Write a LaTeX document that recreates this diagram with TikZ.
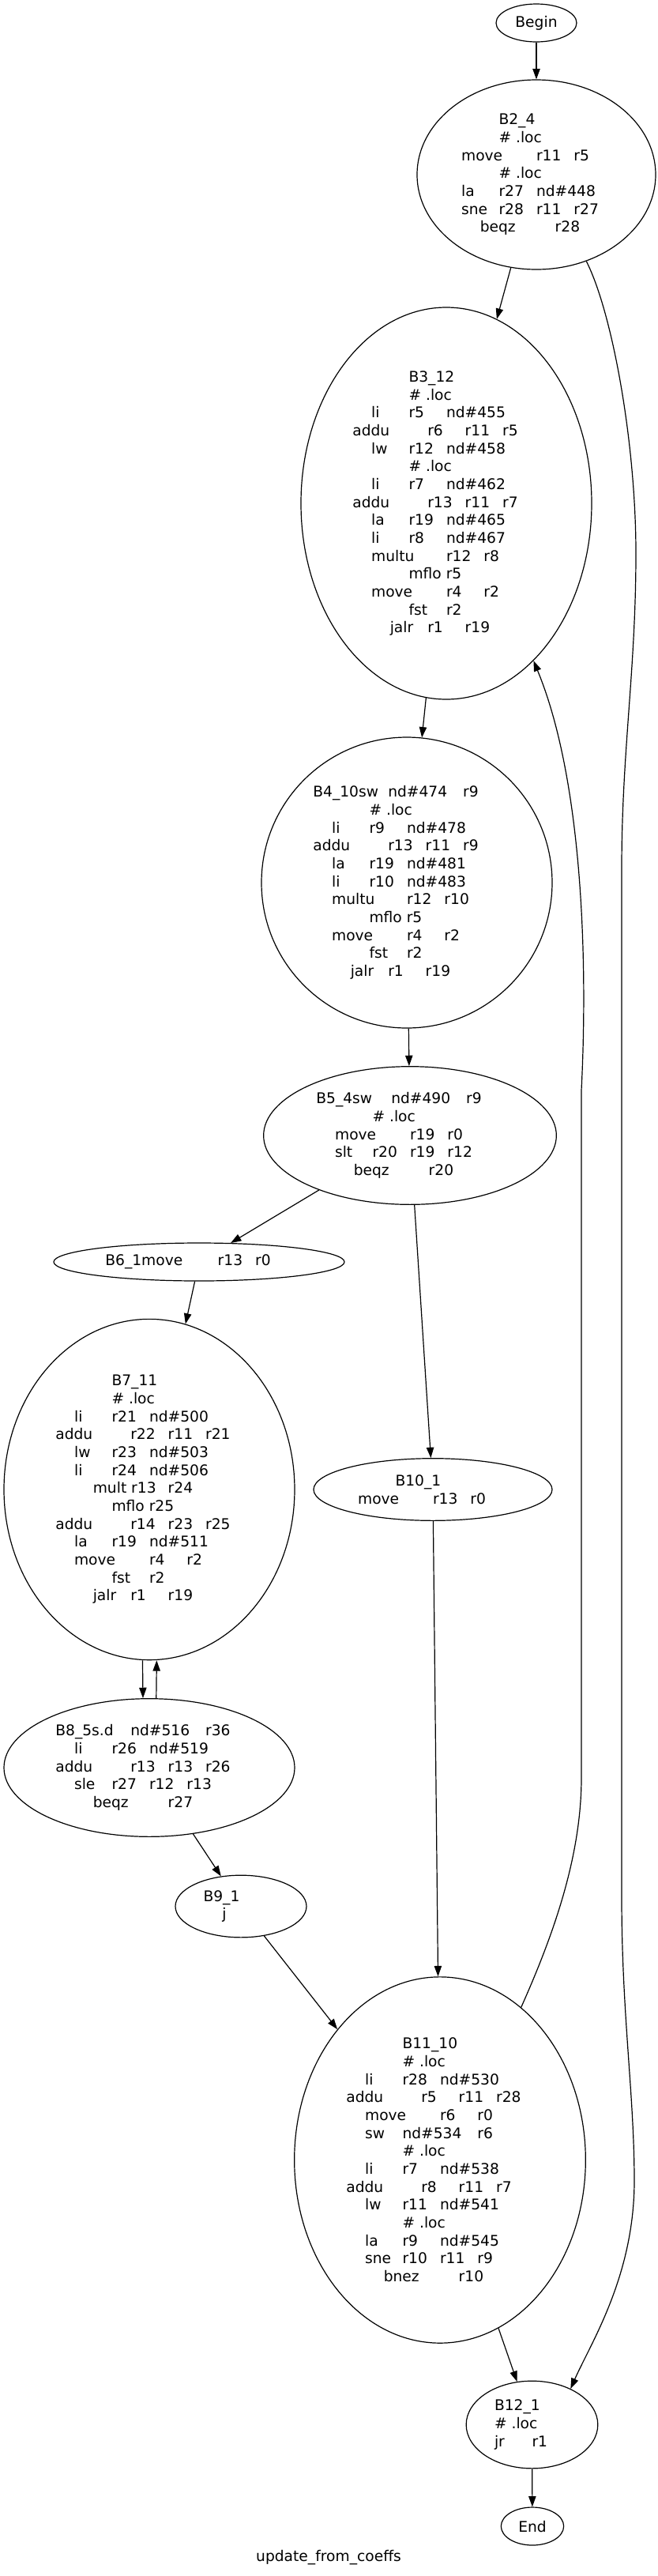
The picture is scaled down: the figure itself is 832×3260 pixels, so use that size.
\documentclass[tikz,border=0pt]{standalone}
\usepackage{fontspec}
\setmainfont{DejaVu Sans}
\usetikzlibrary{shapes.geometric,arrows.meta}

\newlength\tabw
\setlength\tabw{35.6pt}
\newsavebox\tbbox
\newdimen\tbd
\newcommand\tb[1]{\sbox\tbbox{#1}\tbd=\tabw
  \loop\ifdim\tbd<\wd\tbbox\advance\tbd by\tabw\repeat
  \ifdim\tbd=\wd\tbbox\advance\tbd by\tabw\fi
  \makebox[\tbd][l]{\usebox\tbbox}}
\newcommand\loc{\tb{\#\ .loc}}

\begin{document}
\begin{tikzpicture}[x=0.75pt,y=-0.75pt,
 every node/.style={font=\fontsize{14}{17}\selectfont},
 blk/.style={ellipse,draw,line width=0.9pt,inner sep=0pt,align=center},
 edge/.style={line width=0.9pt,-{Triangle[length=10pt,width=7pt]}}]
\fill[white] (0,0) rectangle (832,3260);
\useasboundingbox (0,0) rectangle (832,3260);
\node [blk,minimum width=76.5pt,minimum height=36pt] (begin) at (679,29) {Begin};
\node [blk,minimum width=226.5pt,minimum height=180pt] (B2) at (679,221)
 {\tb{B2\_4\ }\\ \loc\\ \tb{move}\tb{r11}\tb{r5}\\ \loc\\ \tb{la}\tb{r27}\tb{nd\#448}\\
  \tb{sne}\tb{r28}\tb{r11}\tb{r27}\\ \tb{beqz}\tb{}\tb{r28}};
\node [blk,minimum width=276pt,minimum height=372pt] (B3) at (565,637)
 {\tb{B3\_12\ }\\ \loc\\ \tb{li}\tb{r5}\tb{nd\#455}\\ \tb{addu}\tb{}\tb{r6}\tb{r11}\tb{r5}\\
  \tb{lw}\tb{r12}\tb{nd\#458}\\ \loc\\ \tb{li}\tb{r7}\tb{nd\#462}\\ \tb{addu}\tb{}\tb{r13}\tb{r11}\tb{r7}\\
  \tb{la}\tb{r19}\tb{nd\#465}\\ \tb{li}\tb{r8}\tb{nd\#467}\\ \tb{multu}\tb{r12}\tb{r8}\\ \tb{mflo r5}\\
  \tb{move}\tb{r4}\tb{r2}\\ \tb{fst}\tb{r2}\\ \tb{jalr}\tb{r1}\tb{r19}};
\node [blk,minimum width=276pt,minimum height=276pt] (B4) at (515,1117)
 {\tb{B4\_10sw}\tb{nd\#474}\tb{r9}\\ \loc\\ \tb{li}\tb{r9}\tb{nd\#478}\\ \tb{addu}\tb{}\tb{r13}\tb{r11}\tb{r9}\\
  \tb{la}\tb{r19}\tb{nd\#481}\\ \tb{li}\tb{r10}\tb{nd\#483}\\ \tb{multu}\tb{r12}\tb{r10}\\ \tb{mflo r5}\\
  \tb{move}\tb{r4}\tb{r2}\\ \tb{fst}\tb{r2}\\ \tb{jalr}\tb{r1}\tb{r19}};
\node [blk,minimum width=278pt,minimum height=131pt] (B5) at (519,1437)
 {\tb{B5\_4sw}\tb{nd\#490}\tb{r9}\\ \loc\\ \tb{move}\tb{r19}\tb{r0}\\
  \tb{slt}\tb{r20}\tb{r19}\tb{r12}\\ \tb{beqz}\tb{}\tb{r20}};
\node [blk,minimum width=276pt,minimum height=36pt] (B6) at (252,1597)
 {\tb{B6\_1move}\tb{r13}\tb{r0}};
\node [blk,minimum width=276pt,minimum height=323.5pt] (B7) at (189,1885)
 {\tb{B7\_11\ }\\ \loc\\ \tb{li}\tb{r21}\tb{nd\#500}\\ \tb{addu}\tb{}\tb{r22}\tb{r11}\tb{r21}\\
  \tb{lw}\tb{r23}\tb{nd\#503}\\ \tb{li}\tb{r24}\tb{nd\#506}\\ \tb{mult r13}\tb{r24}\\ \tb{mflo r25}\\
  \tb{addu}\tb{}\tb{r14}\tb{r23}\tb{r25}\\ \tb{la}\tb{r19}\tb{nd\#511}\\ \tb{move}\tb{r4}\tb{r2}\\
  \tb{fst}\tb{r2}\\ \tb{jalr}\tb{r1}\tb{r19}};
\node [blk,minimum width=226.5pt,minimum height=59pt] (B10) at (548,1885)
 {\tb{B10\_1\ }\\ \tb{move}\tb{r13}\tb{r0}};
\node [blk,minimum width=276pt,minimum height=131pt] (B8) at (189,2237)
 {\tb{B8\_5s.d}\tb{nd\#516}\tb{r36}\\ \tb{li}\tb{r26}\tb{nd\#519}\\ \tb{addu}\tb{}\tb{r13}\tb{r13}\tb{r26}\\
  \tb{sle}\tb{r27}\tb{r12}\tb{r13}\\ \tb{beqz}\tb{}\tb{r27}};
\node [blk,minimum width=124.5pt,minimum height=59pt] (B9) at (305,2412.5)
 {\tb{B9\_1\ }\\ \tb{j}};
\node [blk,minimum width=276.5pt,minimum height=347.5pt] (B11) at (557,2733.5)
 {\tb{B11\_10\ }\\ \loc\\ \tb{li}\tb{r28}\tb{nd\#530}\\ \tb{addu}\tb{}\tb{r5}\tb{r11}\tb{r28}\\
  \tb{move}\tb{r6}\tb{r0}\\ \tb{sw}\tb{nd\#534}\tb{r6}\\ \loc\\ \tb{li}\tb{r7}\tb{nd\#538}\\
  \tb{addu}\tb{}\tb{r8}\tb{r11}\tb{r7}\\ \tb{lw}\tb{r11}\tb{nd\#541}\\ \loc\\ \tb{la}\tb{r9}\tb{nd\#545}\\
  \tb{sne}\tb{r10}\tb{r11}\tb{r9}\\ \tb{bnez}\tb{}\tb{r10}};
\node [blk,minimum width=125pt,minimum height=83pt] (B12) at (673.5,3068.5)
 {\tb{B12\_1\ }\\ \loc\\ \tb{jr}\tb{r1}};
\node [blk,minimum width=59.5pt,minimum height=36pt] (End) at (674,3197) {End};
\node (title) at (416,3237) {update\_from\_coeffs};
\draw[edge] (begin) -- (B2);
\draw[edge] (B2) -- (B3);
\draw[edge] (B3) -- (B4);
\draw[edge] (B4) -- (B5);
\draw[edge] (B5) -- (B6);
\draw[edge] (B5) -- (B10);
\draw[edge] (B6) -- (B7);
\draw[edge] ([xshift=-6.4pt]B7.south) -- ([xshift=-6pt]B8.north);
\draw[edge] ([xshift=6.6pt]B8.north) -- ([xshift=7pt]B7.south);
\draw[edge] (B8) -- (B9);
\draw[edge] (B9) -- (B11);
\draw[edge] (B10) -- (B11);
\draw[edge] (B11) -- (B12);
\draw[edge] (B12) -- (End);
\draw[edge] (B2.-60) .. controls (775,395) and (805,560) .. (805,700)
 .. controls (805,850) and (787,950) .. (787,1100) -- (787,2400)
 .. controls (787,2550) and (803,2650) .. (803,2760)
 .. controls (803,2880) and (748,2965) .. (B12.43);
\draw[edge] (B11.62) .. controls (700,2450) and (736,2350) .. (736,2250) -- (736,1380)
 .. controls (745,1200) and (735,980) .. (B3.-61);
\end{tikzpicture}
\end{document}
